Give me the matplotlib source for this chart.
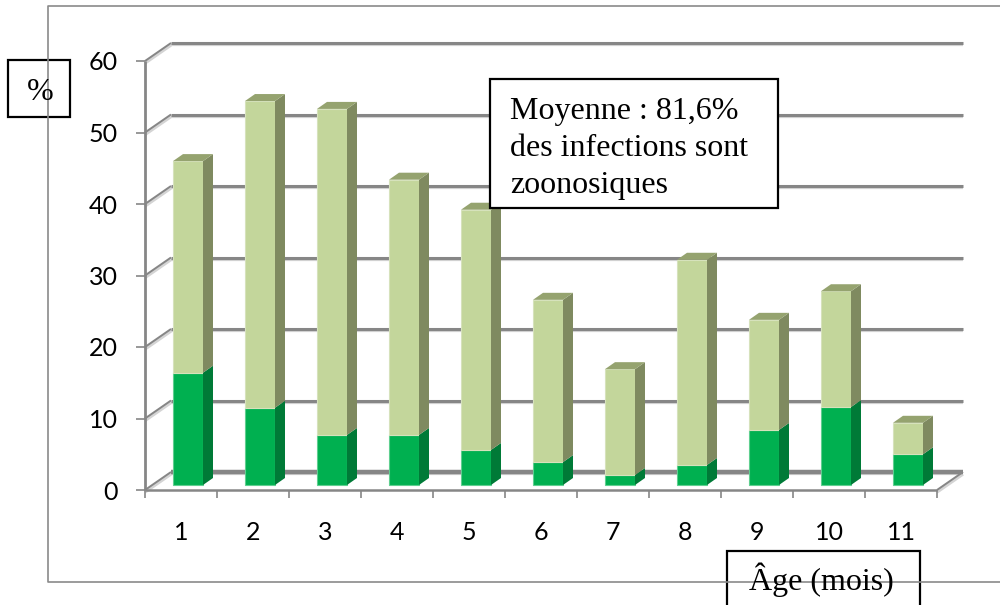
import matplotlib
matplotlib.use('Agg')
import matplotlib.pyplot as plt
from matplotlib.patches import Polygon, Rectangle

plt.rcParams['font.family'] = ['Lato', 'DejaVu Sans']
plt.rcParams['lines.solid_capstyle'] = 'butt'

months = ['1', '2', '3', '4', '5', '6', '7', '8', '9', '10', '11']
zoonotic = [15.7, 10.8, 7.0, 7.0, 4.9, 3.2, 1.4, 2.8, 7.7, 10.9, 4.3]
total = [45.3, 53.7, 52.6, 42.7, 38.5, 25.9, 16.2, 31.5, 23.1, 27.1, 8.7]
other = [t - z for t, z in zip(total, zoonotic)]
y_ticks = [0, 10, 20, 30, 40, 50, 60]

W, H = 1000, 605
fig = plt.figure(figsize=(10, 6.05), dpi=100)


# pixel box -> figure fractions
def fig_box(x0, y0, x1, y1):
    return [x0 / W, 1 - y1 / H, (x1 - x0) / W, (y1 - y0) / H]


ax = fig.add_axes(fig_box(145, 61, 937, 490))
ax.set_xlim(0, len(months))
ax.set_ylim(0, 60)
ax.axis('off')

px_x = len(months) / 792
px_y = 60 / 429
wall_dx, wall_dy = 26 * px_x, 18 * px_y
depth_dx, depth_dy = 10 * px_x, 7 * px_y
bar_w = 30 * px_x
bar_shift = 7 * px_x
floor = 5 * px_y
grey = '#868686'
shadow = '#d4d4d4'

# back wall and side wall lines
for v in y_ticks:
    lw = 3.2 if v == 0 else 2.2
    ax.plot([wall_dx, len(months) + wall_dx], [v + wall_dy - 0.3] * 2, color=shadow, lw=1.6, zorder=1, clip_on=False)
    ax.plot([wall_dx, len(months) + wall_dx], [v + wall_dy] * 2, color=grey, lw=lw, zorder=2, clip_on=False)
    ax.plot([0, wall_dx], [v - 0.3, v + wall_dy - 0.3], color=shadow, lw=2.2, zorder=1, clip_on=False)
    ax.plot([0, wall_dx], [v, v + wall_dy], color=grey, lw=1.4, zorder=2, clip_on=False)
    ax.plot([-9 * px_x, 0], [v, v], color=grey, lw=1.2, zorder=2, clip_on=False)

n = len(months)
ax.plot([n, n + wall_dx], [-0.3, wall_dy - 0.3], color=shadow, lw=2.2, zorder=1, clip_on=False)
ax.plot([n, n + wall_dx], [0, wall_dy], color=grey, lw=1.4, zorder=2, clip_on=False)
ax.plot([0, 0], [0, 60], color=grey, lw=2, zorder=3, clip_on=False)
ax.plot([0, n], [0, 0], color=grey, lw=1.8, zorder=3, clip_on=False)
for i in range(n + 1):
    ax.plot([i, i], [0, -8 * px_y], color=grey, lw=1.2, zorder=3, clip_on=False)


def draw_segment(x, bottom, height, front, edge, side, top=None):
    ax.bar(x, height, bar_w, bottom=bottom, color=front, edgecolor=edge, lw=0.8, align='edge', zorder=5)
    r = x + bar_w
    ax.add_patch(Polygon([(r, bottom), (r + depth_dx, bottom + depth_dy),
                          (r + depth_dx, bottom + height + depth_dy), (r, bottom + height)],
                         color=side, lw=0, zorder=6))
    if top:
        t = bottom + height
        ax.add_patch(Polygon([(x, t), (x + depth_dx, t + depth_dy),
                              (r + depth_dx, t + depth_dy), (r, t)],
                             color=top, lw=0, zorder=6))


for i in range(n):
    x = i + 0.5 + bar_shift - bar_w / 2
    draw_segment(x, floor, zoonotic[i], '#00b050', '#5fcf90', '#007a37')
    draw_segment(x, floor + zoonotic[i], other[i], '#c3d69b', '#d6e2bc', '#7f8a60', '#95a36f')
    ax.text(i + 0.5, -43 * px_y, months[i], ha='center', va='center', fontsize=18, color='black', clip_on=False)

for v in y_ticks:
    ax.text(-27 * px_x, v - 2 * px_y, str(v), ha='right', va='center', fontsize=18, color='black', clip_on=False)

# outer frame (open on the right) and text boxes, in pixels
over = fig.add_axes([0, 0, 1, 1], facecolor='none', zorder=10)
over.set_xlim(0, W)
over.set_ylim(H, 0)
over.axis('off')
over.plot([W, 48, 48, W], [6, 6, 582, 582], color='#8a8a8a', lw=1.2)

for x0, y0, x1, y1 in [(8, 60, 70, 117), (490, 79, 778, 208), (727, 551, 920, 615)]:
    over.add_patch(Rectangle((x0, y0), x1 - x0, y1 - y0, fc='white', ec='black', lw=1.6))

serif = ['Liberation Serif', 'DejaVu Serif']
over.text(40, 100, '%', ha='center', va='baseline', fontsize=23, family=serif)
over.text(510, 119, 'Moyenne : 81,6%', fontsize=23, family=serif)
over.text(510, 156, 'des infections sont', fontsize=23, family=serif)
over.text(510, 193, 'zoonosiques', fontsize=23, family=serif)
over.text(749, 590, 'Âge (mois)', fontsize=23, family=serif)

fig.savefig('out.png', dpi=100)
